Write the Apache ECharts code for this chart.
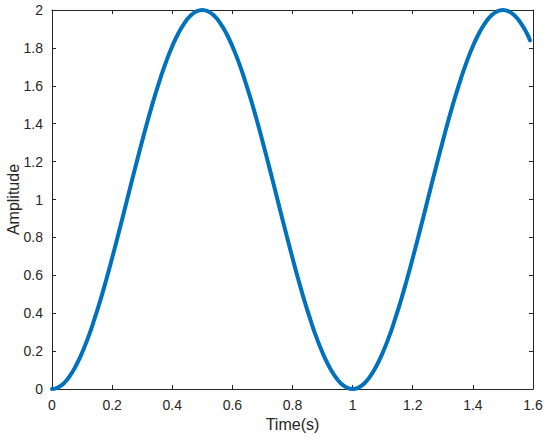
<!DOCTYPE html>
<html>
<head>
<meta charset="utf-8">
<script src="https://cdn.jsdelivr.net/npm/echarts@6/dist/echarts.min.js"></script>
<style>
  html, body { margin: 0; padding: 0; background: #fff; }
  #chart { width: 550px; height: 441px; }
</style>
</head>
<body>
<div id="chart"></div>
<script>
// time samples (s) and amplitude
var times = [
  0.00, 0.02, 0.04, 0.06, 0.08, 0.10, 0.12, 0.14, 0.16, 0.18,
  0.20, 0.22, 0.24, 0.26, 0.28, 0.30, 0.32, 0.34, 0.36, 0.38,
  0.40, 0.42, 0.44, 0.46, 0.48, 0.50, 0.52, 0.54, 0.56, 0.58,
  0.60, 0.62, 0.64, 0.66, 0.68, 0.70, 0.72, 0.74, 0.76, 0.78,
  0.80, 0.82, 0.84, 0.86, 0.88, 0.90, 0.92, 0.94, 0.96, 0.98,
  1.00, 1.02, 1.04, 1.06, 1.08, 1.10, 1.12, 1.14, 1.16, 1.18,
  1.20, 1.22, 1.24, 1.26, 1.28, 1.30, 1.32, 1.34, 1.36, 1.38,
  1.40, 1.42, 1.44, 1.46, 1.48, 1.50, 1.52, 1.54, 1.56, 1.58, 1.59
];
var amplitude = [
  0.000, 0.008, 0.031, 0.070, 0.124, 0.191, 0.271, 0.363, 0.464, 0.574,
  0.691, 0.813, 0.937, 1.063, 1.187, 1.309, 1.426, 1.536, 1.637, 1.729,
  1.809, 1.876, 1.930, 1.969, 1.992, 2.000, 1.992, 1.969, 1.930, 1.876,
  1.809, 1.729, 1.637, 1.536, 1.426, 1.309, 1.187, 1.063, 0.937, 0.813,
  0.691, 0.574, 0.464, 0.363, 0.271, 0.191, 0.124, 0.070, 0.031, 0.008,
  0.000, 0.008, 0.031, 0.070, 0.124, 0.191, 0.271, 0.363, 0.464, 0.574,
  0.691, 0.813, 0.937, 1.063, 1.187, 1.309, 1.426, 1.536, 1.637, 1.729,
  1.809, 1.876, 1.930, 1.969, 1.992, 2.000, 1.992, 1.969, 1.930, 1.876, 1.840
];
var xTicks = [0, 0.2, 0.4, 0.6, 0.8, 1, 1.2, 1.4, 1.6];
var yTicks = [0, 0.2, 0.4, 0.6, 0.8, 1, 1.2, 1.4, 1.6, 1.8, 2];

(function () {
  var ink = '#262626';
  var font = 'Liberation Sans, Arial, sans-serif';
  var pts = times.map(function (t, i) { return [t, amplitude[i]]; });

  function fmt(v) { return String(Math.round(v * 10) / 10); }

  function axis(extra) {
    return Object.assign({
      type: 'value',
      axisLine: { show: true, onZero: false, lineStyle: { color: ink, width: 1 } },
      axisTick: { show: true, inside: true, length: 4, lineStyle: { color: ink } },
      splitLine: { show: false }
    }, extra);
  }

  var chart = echarts.init(document.getElementById('chart'), null, { renderer: 'svg' });
  chart.setOption({
    animation: false,
    backgroundColor: '#fff',
    grid: { left: 52, right: 17, top: 10, bottom: 52, containLabel: false, outerBoundsMode: 'none' },
    xAxis: [
      axis({
        position: 'bottom',
        min: xTicks[0], max: xTicks[xTicks.length - 1], interval: 0.2,
        name: 'Time(s)', nameLocation: 'middle', nameGap: 27, nameMoveOverlap: false,
        nameTextStyle: { color: ink, fontSize: 16, fontFamily: font },
        axisLabel: { color: ink, fontSize: 14, fontFamily: font, margin: 9, formatter: fmt }
      }),
      axis({
        position: 'top',
        min: xTicks[0], max: xTicks[xTicks.length - 1], interval: 0.2,
        axisLabel: { show: false }
      })
    ],
    yAxis: [
      axis({
        position: 'left',
        min: yTicks[0], max: yTicks[yTicks.length - 1], interval: 0.2,
        name: 'Amplitude', nameLocation: 'middle', nameGap: 31, nameMoveOverlap: false,
        nameTextStyle: { color: ink, fontSize: 16, fontFamily: font },
        axisLabel: { color: ink, fontSize: 14, fontFamily: font, margin: 9, formatter: fmt }
      }),
      axis({
        position: 'right',
        min: yTicks[0], max: yTicks[yTicks.length - 1], interval: 0.2,
        axisLabel: { show: false }
      })
    ],
    series: [{
      type: 'line',
      data: pts,
      smooth: true,
      showSymbol: false,
      clip: false,
      lineStyle: { color: '#0072BD', width: 4, cap: 'round', join: 'round' }
    }]
  });
})();
</script>
</body>
</html>
